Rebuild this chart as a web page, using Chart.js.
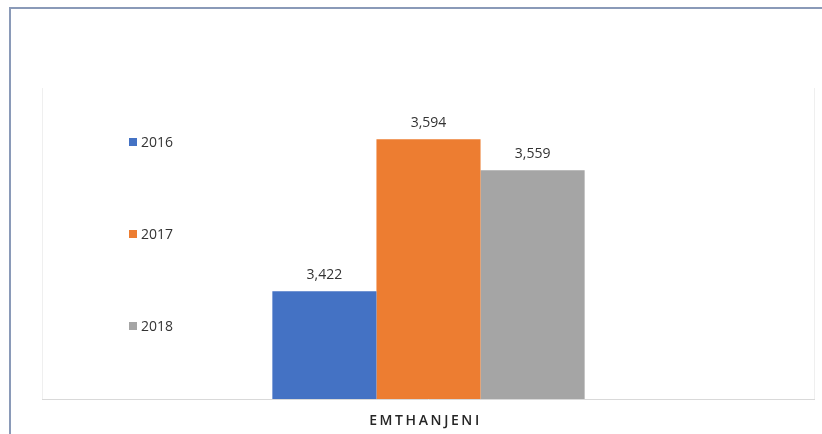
<!DOCTYPE html>
<html>
<head>
<meta charset="utf-8">
<script src="https://cdn.jsdelivr.net/npm/chart.js@4"></script>
<style>
html,body{margin:0;padding:0;background:#fff;}
#wrap{position:relative;width:822px;height:434px;}
#frame{position:absolute;left:9px;top:7px;right:0;bottom:0;border-left:2px solid #8a9ab8;border-top:2px solid #8a9ab8;pointer-events:none;}
canvas{position:absolute;left:0;top:0;}
</style>
</head>
<body>
<div id="wrap">
<canvas id="c" width="822" height="434"></canvas>
<div id="frame"></div>
</div>
<script>
const categories = ["EMTHANJENI"];
const seriesNames = ["2016", "2017", "2018"];
const values2016 = [3422];
const values2017 = [3594];
const values2018 = [3559];
const seriesColors = ["#4472c4", "#ed7d31", "#a5a5a5"];
const yMin = 3300;
const yMax = 3652;

const FONT = "'Open Sans', 'Liberation Sans', sans-serif";

const decor = {
  id: 'decor',
  beforeDatasetsDraw(chart) {
    const ctx = chart.ctx, a = chart.chartArea;
    ctx.save();
    ctx.strokeStyle = '#efefef';
    ctx.lineWidth = 1;
    ctx.beginPath();
    ctx.moveTo(a.left + 0.5, a.top); ctx.lineTo(a.left + 0.5, a.bottom);
    ctx.moveTo(a.right - 0.5, a.top); ctx.lineTo(a.right - 0.5, a.bottom);
    ctx.stroke();
    ctx.strokeStyle = '#d9d9d9';
    ctx.beginPath();
    ctx.moveTo(a.left, a.bottom + 0.5); ctx.lineTo(a.right, a.bottom + 0.5);
    ctx.stroke();
    ctx.restore();
  },
  afterDatasetsDraw(chart) {
    const ctx = chart.ctx, a = chart.chartArea;
    ctx.save();
    // data labels
    ctx.font = "14px " + FONT;
    ctx.fillStyle = '#333333';
    ctx.textAlign = 'center';
    ctx.textBaseline = 'middle';
    chart.data.datasets.forEach((ds, i) => {
      const meta = chart.getDatasetMeta(i);
      meta.data.forEach((bar, j) => {
        ctx.fillText(ds.data[j].toLocaleString('en-US'), bar.x, bar.y - 16);
      });
    });
    // category label with letter spacing
    const xs = chart.scales.x;
    ctx.font = "600 14px " + FONT;
    ctx.fillStyle = '#262626';
    ctx.letterSpacing = '2.6px';
    categories.forEach((c, j) => {
      ctx.fillText(c, xs.getPixelForValue(j) - 3, a.bottom + 22);
    });
    ctx.letterSpacing = '0px';
    // legend
    ctx.font = "14px " + FONT;
    ctx.textAlign = 'left';
    chart.data.datasets.forEach((ds, i) => {
      const y = 142 + i * 92;
      ctx.fillStyle = ds.backgroundColor;
      ctx.fillRect(129, y - 4, 8, 8);
      ctx.fillStyle = '#333333';
      ctx.fillText(ds.label, 141, y + 1);
    });
    ctx.restore();
  }
};

new Chart(document.getElementById('c'), {
  type: 'bar',
  data: {
    labels: categories,
    datasets: [
      { label: seriesNames[0], data: values2016, backgroundColor: seriesColors[0] },
      { label: seriesNames[1], data: values2017, backgroundColor: seriesColors[1] },
      { label: seriesNames[2], data: values2018, backgroundColor: seriesColors[2] }
    ]
  },
  options: {
    responsive: false,
    animation: false,
    layout: { padding: { left: 42, right: 7, top: 88, bottom: 35 } },
    datasets: { bar: { categoryPercentage: 0.404, barPercentage: 1.0, borderWidth: 0 } },
    scales: {
      x: { display: false },
      y: { display: false, min: yMin, max: yMax }
    },
    plugins: { legend: { display: false }, tooltip: { enabled: false } }
  },
  plugins: [decor]
});
</script>
</body>
</html>
